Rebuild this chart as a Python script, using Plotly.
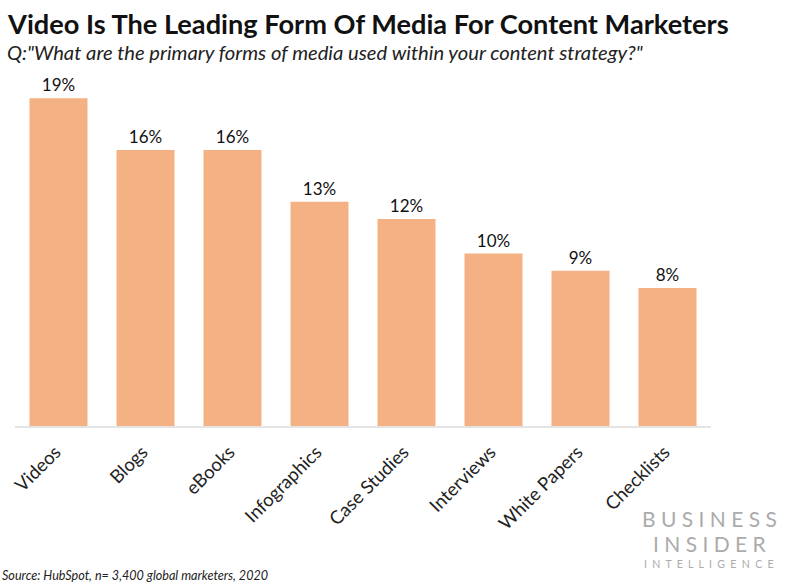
import plotly.graph_objects as go

categories = ["Videos", "Blogs", "eBooks", "Infographics", "Case Studies", "Interviews", "White Papers", "Checklists"]
values = [19, 16, 16, 13, 12, 10, 9, 8]
labels = ["19%", "16%", "16%", "13%", "12%", "10%", "9%", "8%"]

W, H = 789, 583
FONT = "Lato"
ML, MR, MT, MB = 15, 78, 81, 157

fig = go.Figure()
fig.add_trace(go.Bar(
    x=categories, y=values,
    marker=dict(color="#F4B183", line=dict(width=0)),
    text=labels, textposition="outside", cliponaxis=False,
    textfont=dict(family=FONT, size=17, color="#111111"),
))


# loose text is given in page pixels, paper coords only cover the plot area
def add_text(px, py, text, size, color="#111111", anchor="left"):
    fig.add_annotation(
        x=(px - ML) / (W - ML - MR), y=(H - MB - py) / (H - MT - MB),
        xref="paper", yref="paper",
        xanchor=anchor, yanchor="middle", text=text, showarrow=False,
        font=dict(family=FONT, size=size, color=color),
    )


fig.update_layout(
    width=W, height=H,
    margin=dict(l=ML, r=MR, t=MT, b=MB, autoexpand=False),
    paper_bgcolor="white", plot_bgcolor="white",
    bargap=0.333, showlegend=False,
    xaxis=dict(
        tickangle=-45, showline=True, linecolor="#E4E4E4", linewidth=2,
        ticks="", tickfont=dict(family=FONT, size=18.5, color="#222222"),
        ticklabelstandoff=6, ticklabelshift=-3,
    ),
    yaxis=dict(range=[0, 20], visible=False, showgrid=False),
)

add_text(5, 23, "<b>Video Is The Leading Form Of Media For Content Marketers</b>", 27.2)
add_text(5, 52, "<i>Q:\"What are the primary forms of media used within your content strategy?\"</i>", 20.2, color="#222222")
add_text(0, 575, "<i>Source: HubSpot, n= 3,400 global marketers, 2020</i>", 12.6, color="#222222")

# wordmark, letter spaced by hand
add_text(709, 518, "B U S I N E S S", 21, color="#ABABAB", anchor="center")
add_text(710, 543, "I N S I D E R", 21, color="#ABABAB", anchor="center")
add_text(709, 564, "\u00a0\u00a0".join("INTELLIGENCE"), 10.5, color="#ABABAB", anchor="center")

# page default margin would push the figure 8px off
fig.write_html("out.html", config=dict(displayModeBar=False), post_script="document.body.style.margin='0'")
